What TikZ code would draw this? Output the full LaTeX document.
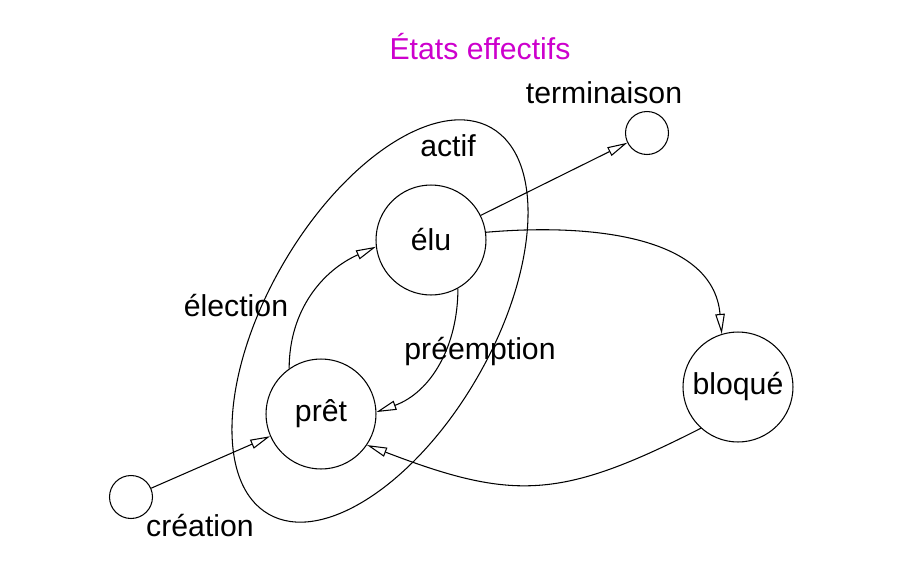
\documentclass[tikz,border=0pt]{standalone}
\usepackage{fontspec}
\setmainfont{Liberation Sans}
\usepackage{xcolor}
\usetikzlibrary{arrows.meta, positioning}
\definecolor{titremagenta}{RGB}{205,0,205}

\tikzset{
  etat/.style={draw, circle, minimum size=2.2cm, inner sep=0pt},
  bout/.style={draw, circle, minimum size=0.86cm, inner sep=0pt},
}

\begin{document}
\begin{tikzpicture}[x=0.02cm, y=-0.02cm, line width=0.6pt,
    >={Triangle[open, length=0.4cm, width=0.19cm]},
    font=\fontsize{17.2}{20}\selectfont]
        \useasboundingbox (0,0) rectangle (904,582);

        % ==========================================
        % Title and the "actif" region
        % ==========================================
        \node[text=titremagenta] (titre) at (480,47) {États effectifs};
        \draw[rotate around={60:(380,321)}] (380,321) ellipse [x radius=4.46cm, y radius=2.25cm];
        \node (actif) at (448,146) {actif};

        % ==========================================
        % States
        % ==========================================
        \node[etat] (elu) at (431,240) {élu};
        \node[etat] (pret) at (321,414) {prêt};
        \node[etat] (bloque) at (738,387) {bloqué};
        \node[bout] (term) at (647,133) {};
        \node[bout] (crea) at (131,497) {};

        % Labels
        \node (lterm) at (604,93) {terminaison};
        \node (lcrea) at (200,526) {création};
        \node (lelec) at (236,306) {élection};
        \node (lpree) at (480,352) {préemption};

        % ==========================================
        % Transitions
        % ==========================================
        \draw[->] (crea) -- (pret);
        \draw[->] (elu) -- (term);
        \draw[->] (pret.125) to[out=90, in=204] (elu.187);
        \draw[->] (elu.-61) to[out=-90, in=20] (pret.2);
        \draw[->] (elu.8) to[out=5, in=95] (bloque.107);
        \draw[->] (bloque.228) to[out=207, in=-21, looseness=1.2] (pret.-34);

    \end{tikzpicture}
\end{document}
